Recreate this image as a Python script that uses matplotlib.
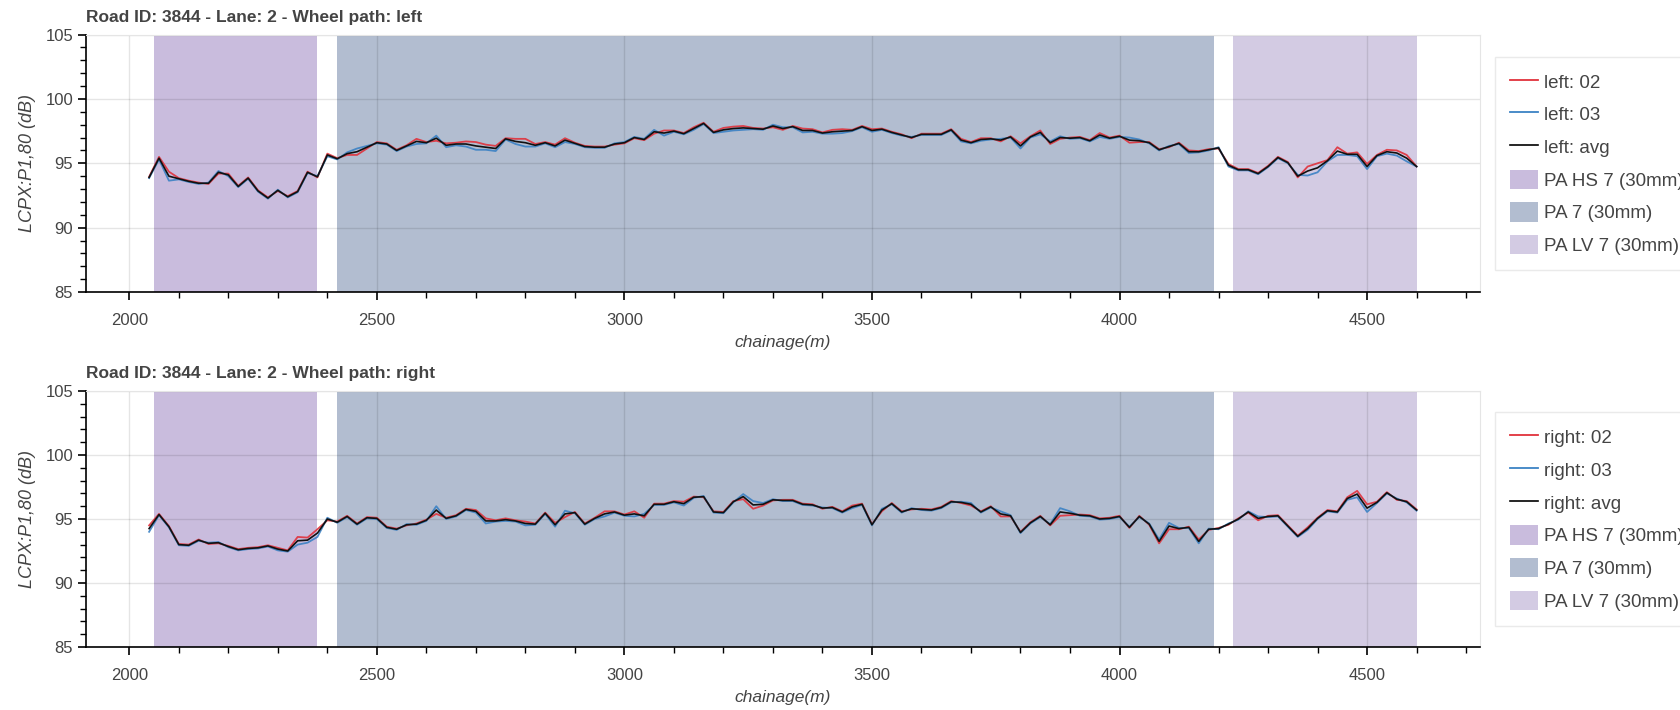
import numpy as np
import matplotlib
matplotlib.use("Agg")
import matplotlib.pyplot as plt
from matplotlib.patches import Patch
from matplotlib.lines import Line2D
from matplotlib.ticker import MultipleLocator

plt.rcParams['font.family'] = ['Liberation Sans', 'DejaVu Sans']

# chainage of the measurements (m), one every 20 m
chainage = np.arange(2040, 4601, 20)

left_02 = [93.95, 95.5, 94.35, 93.85, 93.65, 93.5, 93.4, 94.2, 94.2, 93.25,
           93.9, 92.9, 92.35, 92.85, 92.45, 92.85, 94.35, 93.9, 95.75, 95.4,
           95.65, 95.65, 96.15, 96.65, 96.55, 96.05, 96.4, 96.9, 96.65, 96.75,
           96.55, 96.6, 96.7, 96.65, 96.45, 96.35, 96.95, 96.9, 96.9, 96.5,
           96.65, 96.45, 96.95, 96.6, 96.35, 96.3, 96.3, 96.45, 96.55, 96.95,
           96.8, 97.3, 97.55, 97.55, 97.35, 97.8, 98.15, 97.45, 97.75, 97.85,
           97.9, 97.75, 97.7, 97.8, 97.6, 97.9, 97.7, 97.65, 97.4, 97.6,
           97.65, 97.6, 97.9, 97.65, 97.7, 97.45, 97.25, 96.95, 97.3, 97.3,
           97.3, 97.65, 96.9, 96.65, 96.95, 96.95, 96.7, 97.1, 96.55, 97.1,
           97.55, 96.5, 96.9, 97.0, 97.05, 96.8, 97.35, 97.0, 97.15, 96.6,
           96.65, 96.65, 96.1, 96.25, 96.6, 96.0, 95.95, 96.1, 96.15, 94.95,
           94.55, 94.55, 94.25, 94.8, 95.5, 95.1, 93.9, 94.75, 95.0, 95.25,
           96.25, 95.75, 95.85, 94.95, 95.65, 96.05, 96.0, 95.65, 94.75]
left_03 = [93.85, 95.3, 93.65, 93.75, 93.55, 93.4, 93.5, 94.4, 94.0, 93.15,
           93.8, 92.8, 92.25, 92.95, 92.35, 92.75, 94.25, 94.0, 95.55, 95.3,
           95.85, 96.15, 96.35, 96.55, 96.45, 95.95, 96.3, 96.5, 96.55, 97.15,
           96.25, 96.4, 96.3, 96.05, 96.05, 95.95, 96.85, 96.5, 96.3, 96.3,
           96.55, 96.25, 96.65, 96.5, 96.25, 96.2, 96.2, 96.55, 96.65, 97.05,
           96.9, 97.6, 97.15, 97.45, 97.25, 97.6, 98.05, 97.35, 97.45, 97.55,
           97.6, 97.65, 97.6, 98.0, 97.8, 97.8, 97.4, 97.45, 97.3, 97.3,
           97.35, 97.5, 97.8, 97.45, 97.6, 97.35, 97.15, 97.05, 97.2, 97.2,
           97.2, 97.55, 96.7, 96.55, 96.75, 96.85, 96.9, 97.0, 96.15, 97.0,
           97.25, 96.7, 97.1, 96.9, 96.95, 96.7, 97.05, 96.9, 97.05, 97.0,
           96.85, 96.55, 96.0, 96.35, 96.5, 95.8, 95.85, 96.0, 96.25, 94.75,
           94.45, 94.45, 94.15, 94.7, 95.4, 95.0, 94.1, 94.05, 94.3, 95.15,
           95.65, 95.65, 95.55, 94.55, 95.55, 95.75, 95.6, 95.15, 94.75]
left_avg = [93.9, 95.4, 94.0, 93.8, 93.6, 93.45, 93.45, 94.3, 94.1, 93.2,
            93.85, 92.85, 92.3, 92.9, 92.4, 92.8, 94.3, 93.95, 95.65, 95.35,
            95.75, 95.9, 96.25, 96.6, 96.5, 96.0, 96.35, 96.7, 96.6, 96.95,
            96.4, 96.5, 96.5, 96.35, 96.25, 96.15, 96.9, 96.7, 96.6, 96.4,
            96.6, 96.35, 96.8, 96.55, 96.3, 96.25, 96.25, 96.5, 96.6, 97.0,
            96.85, 97.45, 97.35, 97.5, 97.3, 97.7, 98.1, 97.4, 97.6, 97.7,
            97.75, 97.7, 97.65, 97.9, 97.7, 97.85, 97.55, 97.55, 97.35, 97.45,
            97.5, 97.55, 97.85, 97.55, 97.65, 97.4, 97.2, 97.0, 97.25, 97.25,
            97.25, 97.6, 96.8, 96.6, 96.85, 96.9, 96.8, 97.05, 96.35, 97.05,
            97.4, 96.6, 97.0, 96.95, 97.0, 96.75, 97.2, 96.95, 97.1, 96.8,
            96.75, 96.6, 96.05, 96.3, 96.55, 95.9, 95.9, 96.05, 96.2, 94.85,
            94.5, 94.5, 94.2, 94.75, 95.45, 95.05, 94.0, 94.4, 94.65, 95.2,
            95.95, 95.7, 95.7, 94.75, 95.6, 95.9, 95.8, 95.4, 94.75]

right_02 = [94.5, 95.4, 94.45, 93.05, 93.0, 93.4, 93.05, 93.1, 92.9, 92.65,
            92.75, 92.8, 92.95, 92.75, 92.55, 93.6, 93.55, 94.2, 94.9, 94.8,
            95.25, 94.65, 95.15, 95.1, 94.4, 94.25, 94.5, 94.65, 94.95, 95.4,
            95.1, 95.3, 95.8, 95.7, 95.05, 94.9, 95.05, 94.9, 94.8, 94.65,
            95.5, 94.7, 95.15, 95.55, 94.65, 95.1, 95.6, 95.6, 95.35, 95.6,
            95.1, 96.2, 96.2, 96.4, 96.35, 96.75, 96.7, 95.6, 95.55, 96.4,
            96.55, 95.8, 96.05, 96.45, 96.5, 96.5, 96.2, 96.15, 95.8, 95.95,
            95.6, 96.05, 96.2, 94.6, 95.6, 96.25, 95.6, 95.75, 95.8, 95.75,
            95.95, 96.4, 96.25, 96.05, 95.6, 96.0, 95.2, 95.2, 94.0, 94.75,
            95.25, 94.5, 95.25, 95.3, 95.35, 95.3, 95.05, 95.1, 95.25, 94.3,
            95.25, 94.55, 93.1, 94.2, 94.2, 94.4, 93.4, 94.15, 94.3, 94.55,
            95.05, 95.5, 94.9, 95.25, 95.3, 94.5, 93.7, 94.35, 95.1, 95.7,
            95.6, 96.7, 97.2, 96.15, 96.35, 97.1, 96.5, 96.4, 95.75]
right_03 = [94.0, 95.3, 94.35, 92.95, 92.9, 93.3, 93.15, 93.2, 92.8, 92.55,
            92.65, 92.7, 92.85, 92.55, 92.45, 93.0, 93.15, 93.6, 95.1, 94.7,
            95.15, 94.55, 95.05, 95.0, 94.3, 94.15, 94.6, 94.55, 94.85, 96.0,
            95.0, 95.2, 95.7, 95.5, 94.65, 94.8, 94.85, 94.8, 94.5, 94.55,
            95.4, 94.4, 95.65, 95.45, 94.55, 95.0, 95.2, 95.5, 95.25, 95.2,
            95.4, 96.1, 96.1, 96.3, 96.05, 96.65, 96.8, 95.5, 95.45, 96.3,
            96.95, 96.4, 96.25, 96.55, 96.4, 96.4, 96.1, 96.05, 95.9, 95.85,
            95.5, 95.85, 96.1, 94.5, 95.8, 96.15, 95.5, 95.85, 95.7, 95.65,
            95.85, 96.3, 96.35, 96.25, 95.5, 95.9, 95.6, 95.3, 93.9, 94.65,
            95.15, 94.6, 95.85, 95.6, 95.25, 95.2, 94.95, 95.0, 95.15, 94.4,
            95.15, 94.65, 93.4, 94.7, 94.3, 94.3, 93.1, 94.25, 94.2, 94.65,
            94.95, 95.6, 95.2, 95.15, 95.2, 94.4, 93.6, 94.15, 95.0, 95.6,
            95.5, 96.5, 96.7, 95.55, 96.25, 97.0, 96.6, 96.3, 95.65]
right_avg = [94.25, 95.35, 94.4, 93.0, 92.95, 93.35, 93.1, 93.15, 92.85, 92.6,
             92.7, 92.75, 92.9, 92.65, 92.5, 93.3, 93.35, 93.9, 95.0, 94.75,
             95.2, 94.6, 95.1, 95.05, 94.35, 94.2, 94.55, 94.6, 94.9, 95.7,
             95.05, 95.25, 95.75, 95.6, 94.85, 94.85, 94.95, 94.85, 94.65, 94.6,
             95.45, 94.55, 95.4, 95.5, 94.6, 95.05, 95.4, 95.55, 95.3, 95.4,
             95.25, 96.15, 96.15, 96.35, 96.2, 96.7, 96.75, 95.55, 95.5, 96.35,
             96.75, 96.1, 96.15, 96.5, 96.45, 96.45, 96.15, 96.1, 95.85, 95.9,
             95.55, 95.95, 96.15, 94.55, 95.7, 96.2, 95.55, 95.8, 95.75, 95.7,
             95.9, 96.35, 96.3, 96.15, 95.55, 95.95, 95.4, 95.25, 93.95, 94.7,
             95.2, 94.55, 95.55, 95.45, 95.3, 95.25, 95.0, 95.05, 95.2, 94.35,
             95.2, 94.6, 93.25, 94.45, 94.25, 94.35, 93.25, 94.2, 94.25, 94.6,
             95.0, 95.55, 95.05, 95.2, 95.25, 94.45, 93.65, 94.25, 95.05, 95.65,
             95.55, 96.6, 96.95, 95.85, 96.3, 97.05, 96.55, 96.35, 95.7]

# pavement sections: name, start, end (m)
section_names = ['PA HS 7 (30mm)', 'PA 7 (30mm)', 'PA LV 7 (30mm)']
section_start = [2050, 2420, 4230]
section_end = [2380, 4190, 4600]
section_colors = ['#c9bcdd', '#b2bdd0', '#d3cbe3']

RED = '#e0323c'
BLUE = '#3c82c4'
TXT = '#444444'


def draw_panel(ax, path, s02, s03, savg):
    for name, a, b, c in zip(section_names, section_start, section_end, section_colors):
        ax.axvspan(a, b, color=c, lw=0, zorder=0.2)
    ax.plot(chainage, s02, color=RED, lw=1.3, alpha=0.9, zorder=2)
    ax.plot(chainage, s03, color=BLUE, lw=1.3, alpha=0.9, zorder=2.1)
    ax.plot(chainage, savg, color='#111111', lw=1.2, zorder=2.2)

    ax.set_xlim(1912, 4728)
    ax.set_ylim(85, 105)
    ax.xaxis.set_major_locator(MultipleLocator(500))
    ax.xaxis.set_minor_locator(MultipleLocator(100))
    ax.yaxis.set_major_locator(MultipleLocator(5))
    ax.yaxis.set_minor_locator(MultipleLocator(1))
    ax.set_axisbelow(True)
    ax.grid(True, which='major', color='black', alpha=0.1, lw=1)
    ax.tick_params(which='major', direction='out', length=6, width=1.2,
                   labelsize=12, labelcolor=TXT)
    ax.tick_params(axis='x', which='major', pad=9)
    ax.tick_params(axis='y', which='major', pad=3)
    ax.tick_params(which='minor', direction='out', length=4, width=1)
    for s in ['top', 'right']:
        ax.spines[s].set_color('#e5e5e5')
    for s in ['left', 'bottom']:
        ax.spines[s].set_linewidth(1.2)

    ax.set_xlabel('chainage(m)', fontsize=12.5, style='italic', color=TXT, labelpad=5)
    ax.set_ylabel('LCPX:P1,80 (dB)', fontsize=13, style='italic', color=TXT, labelpad=7)
    ax.set_title(f'Road ID: 3844 - Lane: 2 - Wheel path: {path}', loc='left',
                 fontsize=12.5, fontweight='bold', color=TXT, pad=9)

    handles = [Line2D([], [], color=RED, lw=1.3),
               Line2D([], [], color=BLUE, lw=1.3),
               Line2D([], [], color='black', lw=1.2)]
    labels = [f'{path}: 02', f'{path}: 03', f'{path}: avg']
    for name, c in zip(section_names, section_colors):
        handles.append(Patch(facecolor=c, edgecolor='none'))
        labels.append(name)
    leg = ax.legend(handles, labels, loc='center left', bbox_to_anchor=(1.0107, 0.5),
                    fontsize=13.5, frameon=True, fancybox=False, edgecolor='#e5e5e5',
                    handlelength=1.5, handleheight=1.2, handletextpad=0.3,
                    labelspacing=0.68, borderpad=0.8, borderaxespad=0)
    for t in leg.get_texts():
        t.set_color(TXT)


fig = plt.figure(figsize=(16.81, 7.10), dpi=100)
ax1 = fig.add_axes([0.051, 0.5887, 0.8294, 0.3626])
ax2 = fig.add_axes([0.051, 0.0887, 0.8294, 0.3606])

draw_panel(ax1, 'left', left_02, left_03, left_avg)
draw_panel(ax2, 'right', right_02, right_03, right_avg)

fig.savefig('out.png', dpi=100)
